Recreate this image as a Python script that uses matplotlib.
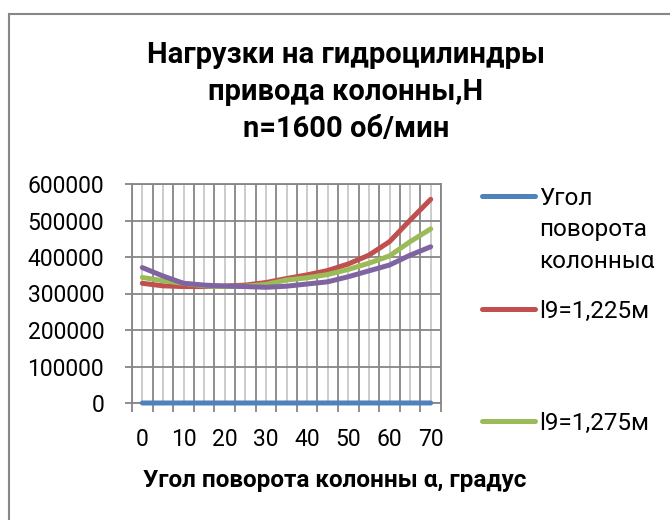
import matplotlib
matplotlib.use("Agg")
import matplotlib.pyplot as plt
from matplotlib.lines import Line2D
from matplotlib.patches import Rectangle

plt.rcParams['font.family'] = ['Roboto', 'DejaVu Sans']

# ---- data ----
angles = [0, 5, 10, 15, 20, 25, 30, 35, 40, 45, 50, 55, 60, 65, 70]
tick_labels = ['0', '', '10', '', '20', '', '30', '', '40', '', '50', '', '60', '', '70']
series_names = ['Угол\nповорота\nколонныα', 'l9=1,225м', 'l9=1,275м', 'l9=1,325м']
angle_series = [0, 5, 10, 15, 20, 25, 30, 35, 40, 45, 50, 55, 60, 65, 70]
load_1225 = [328000, 321000, 319000, 319000, 320500, 323000, 330000, 341000,
             351000, 363000, 381000, 405000, 442000, 501000, 558000]
load_1275 = [344000, 335000, 328000, 321000, 319000, 320000, 325000, 337000,
             343000, 352000, 366000, 383000, 403000, 442000, 477000]
load_1325 = [371000, 348000, 328000, 323000, 320500, 319000, 317000, 320000,
             326000, 332000, 346000, 362000, 378000, 405000, 428000]
y_ticks = [0, 100000, 200000, 300000, 400000, 500000, 600000]

colors = ['#4F81BD', '#C0504D', '#9BBB59', '#8064A2']
series = [angle_series, load_1225, load_1275, load_1325]

W, H = 670, 520
fig = plt.figure(figsize=(W / 100, H / 100), dpi=100)

# outer chart border
fig.add_artist(Rectangle((9 / W, -0.2), 1.5, (H - 14) / H + 0.2,
                         transform=fig.transFigure, fill=False,
                         edgecolor='#878787', linewidth=1.5))

ax = fig.add_axes([132 / W, (H - 403) / H, (441 - 132) / W, (403 - 184) / H])

lw = 5 * 72 / 100
for vals, c in zip(series, colors):
    ax.plot(angles, vals, color=c, linewidth=lw, solid_capstyle='round',
            zorder=3, clip_on=False)

step = angles[1] - angles[0]
ax.set_xlim(angles[0] - step / 2, angles[-1] + step / 2)
ax.set_ylim(y_ticks[0], y_ticks[-1])

dark = '#868686'
light = '#C8C8C8'

ax.set_xticks(angles)
ax.set_xticklabels(tick_labels)
boundaries = [a - step / 2 for a in angles] + [angles[-1] + step / 2]
ax.set_xticks(boundaries, minor=True)
ax.tick_params(axis='x', which='major', length=0, pad=18, labelsize=16.5)
ax.tick_params(axis='x', which='minor', length=9 * 0.72, width=1.3, color=dark, direction='out')
ax.grid(True, axis='x', which='major', color=light, linewidth=1.3, zorder=1)
ax.grid(True, axis='x', which='minor', color=dark, linewidth=1.3, zorder=1)

ax.set_yticks(y_ticks)
ax.set_yticklabels([str(v) for v in y_ticks])
ax.tick_params(axis='y', which='major', length=7 * 0.72, width=1.3, color=dark,
               pad=15, labelsize=16.5)
ax.grid(True, axis='y', which='major', color=dark, linewidth=1.3, zorder=1)
ax.set_axisbelow(True)

for s in ax.spines.values():
    s.set_color(dark)
    s.set_linewidth(1.3)

ax.set_xlabel('Угол поворота колонны α, градус', fontsize=17.5, fontweight='bold',
              labelpad=13)
ax.xaxis.label.set_x((335 - 132) / (441 - 132))

fig.text(346 / W, 1 - 41 / H, 'Нагрузки на гидроцилиндры\nпривода колонны,Н\nn=1600 об/мин',
         ha='center', va='top', fontsize=21, fontweight='bold', linespacing=1.42)

# legend (Excel-style, evenly spread; the fourth entry lies below the visible area)
leg_y0 = 196
leg_dy = 112.5
for k, (name, c) in enumerate(zip(series_names[:3], colors[:3])):
    yy = 1 - (leg_y0 + k * leg_dy) / H
    fig.add_artist(Line2D([482 / W, 535 / W], [yy, yy], transform=fig.transFigure,
                          color=c, linewidth=lw, solid_capstyle='round'))
    fig.text(539 / W, yy + 9 / H, name, ha='left', va='top', fontsize=17.5,
             linespacing=1.47)

fig.savefig('out.png', dpi=100)
